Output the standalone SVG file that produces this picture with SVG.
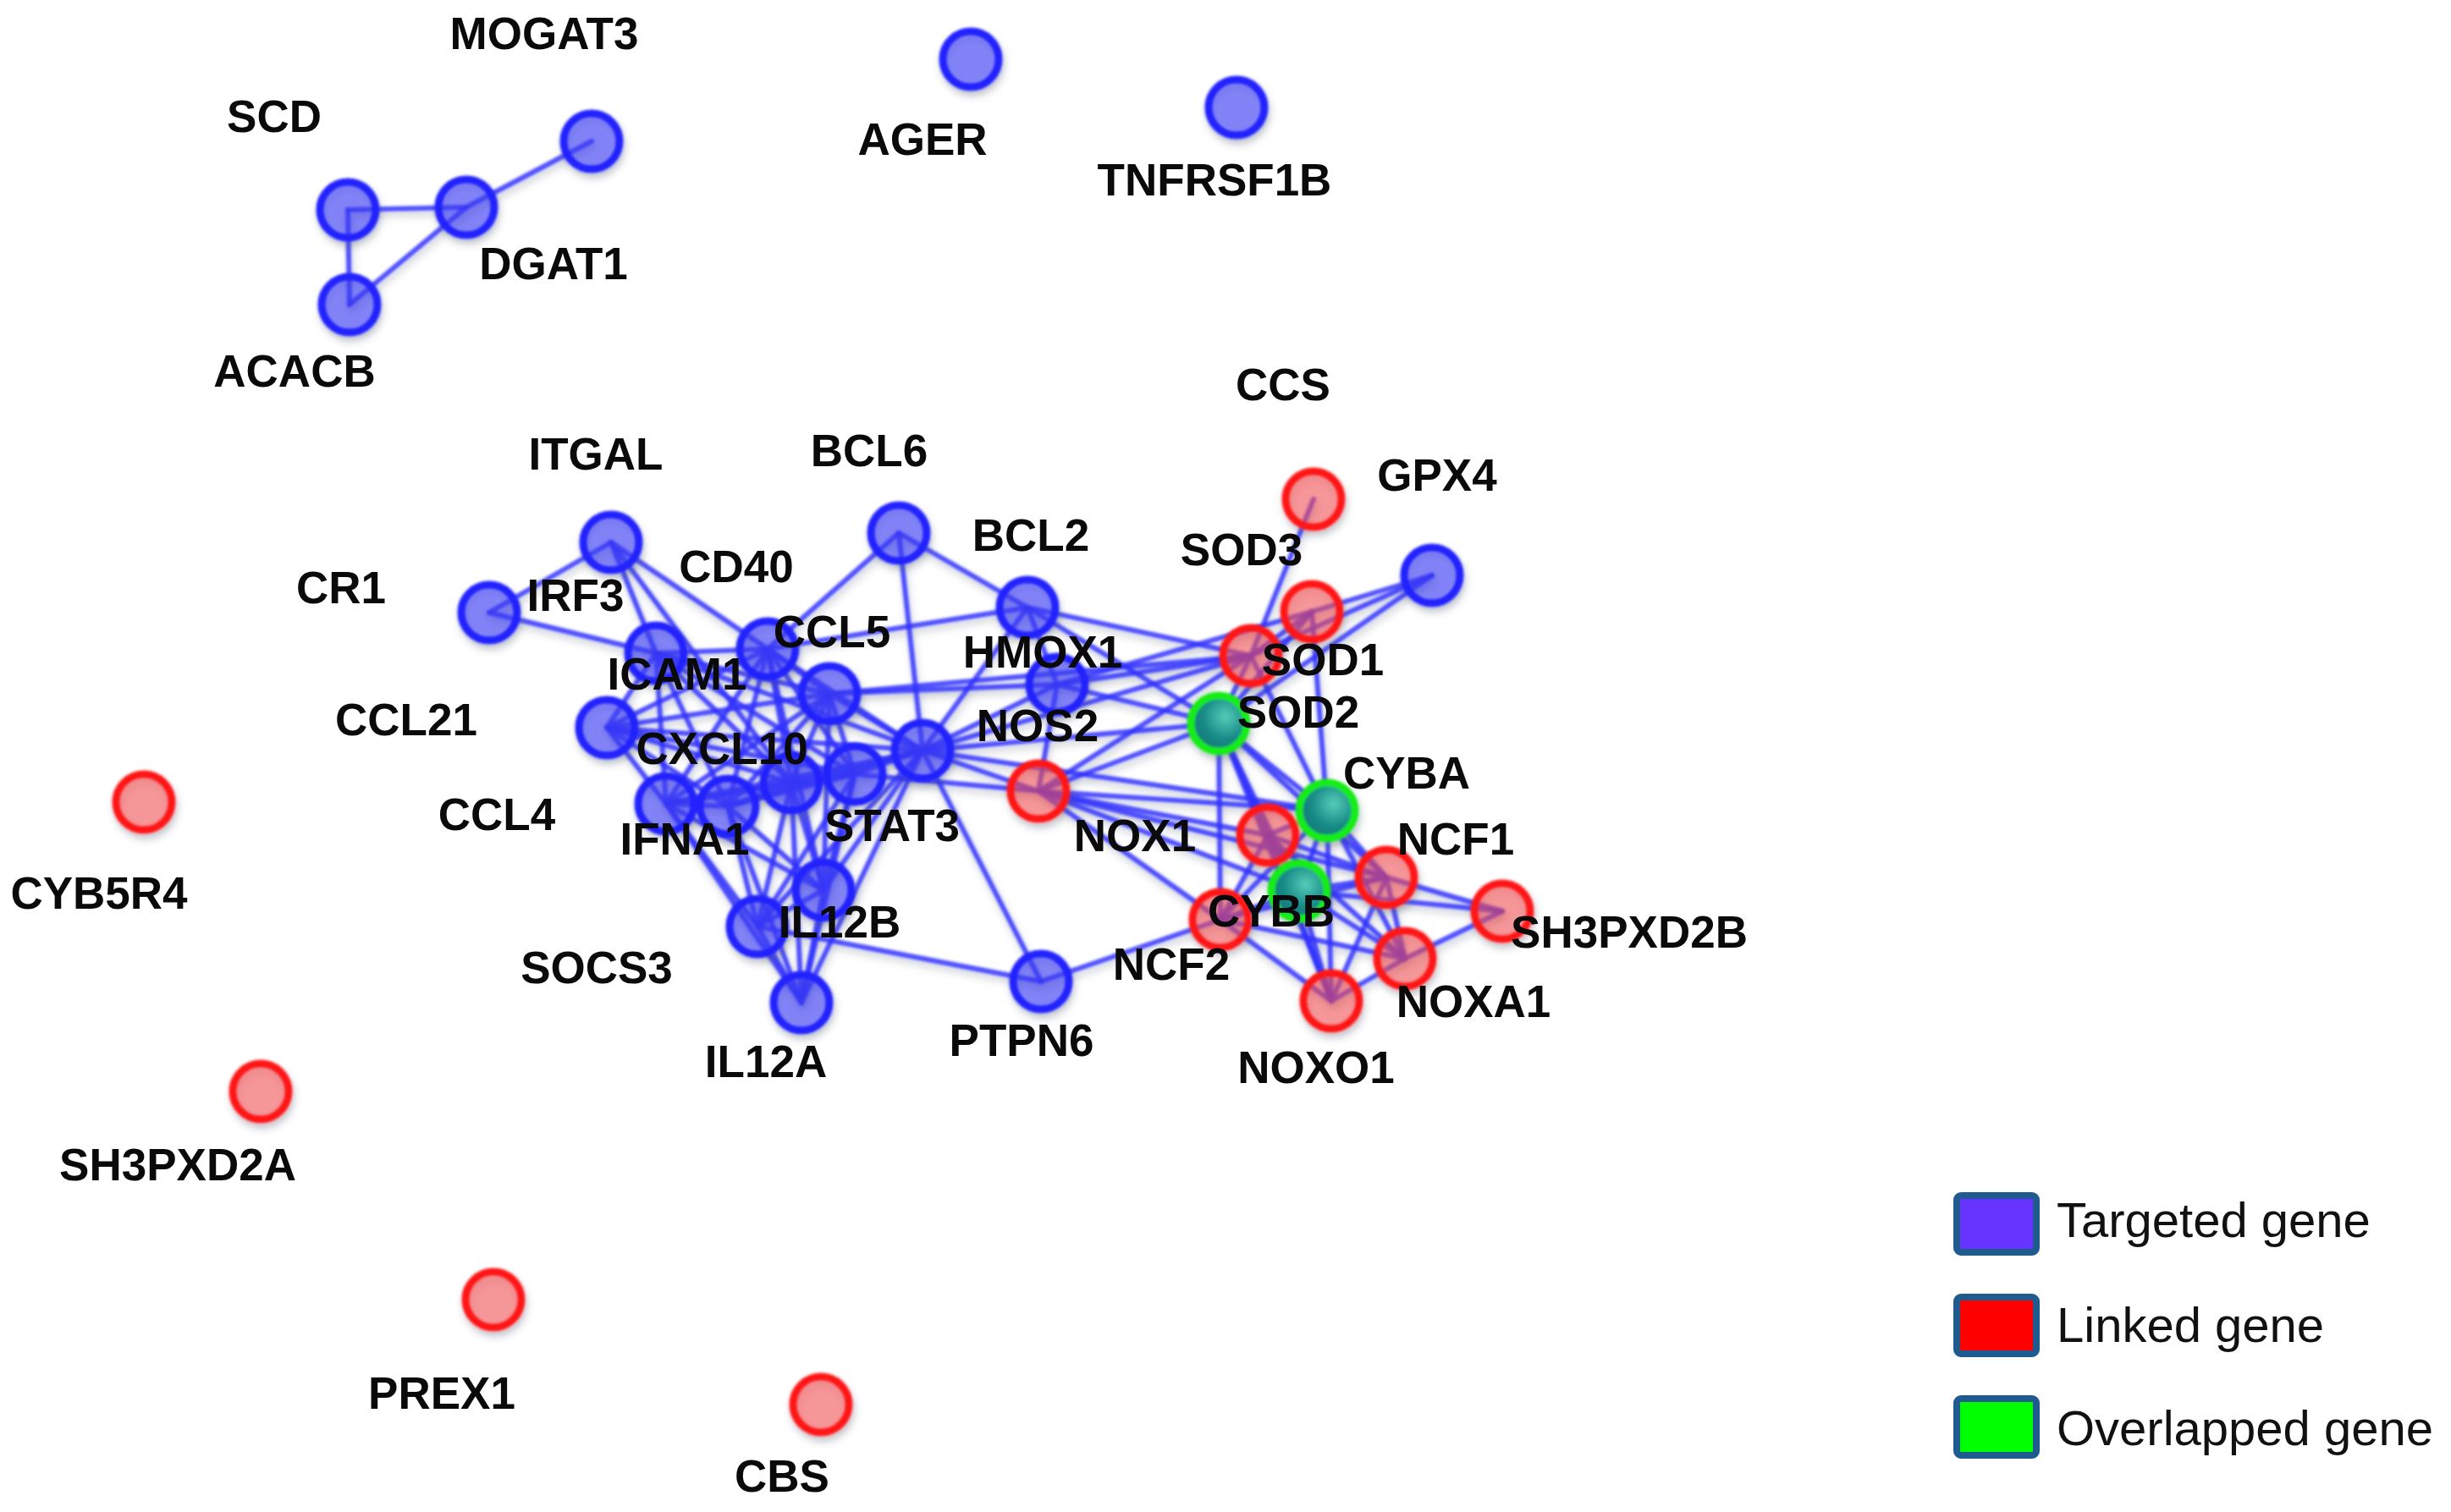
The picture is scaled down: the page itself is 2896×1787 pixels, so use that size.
<svg xmlns="http://www.w3.org/2000/svg" width="2896" height="1787" viewBox="0 0 2896 1787">
<defs>
<style>
.e{stroke:#2e2eff;stroke-width:6;stroke-opacity:0.82;stroke-linecap:round;fill:none}
.nb{fill:#3c3cff;fill-opacity:0.55;stroke:#2020ff;stroke-width:9}
.nr{fill:#ff4a4a;fill-opacity:0.5;stroke:#ff1616;stroke-width:9}
.ng{fill:url(#gg);stroke:#18ec18;stroke-width:9}
.lb{font-family:"Liberation Sans",Arial,sans-serif;font-weight:bold;font-size:53px;fill:#0a0a0a;text-anchor:middle}
.lg{font-family:"Liberation Sans",Arial,sans-serif;font-size:58px;fill:#111}
.box{stroke:#1f5b8e;stroke-width:8}
</style>
<radialGradient id="gg" cx="0.62" cy="0.38" r="0.7">
<stop offset="0" stop-color="#55ccb8"/>
<stop offset="0.55" stop-color="#1a8c88"/>
<stop offset="1" stop-color="#0d7474"/>
</radialGradient>
<filter id="sh" filterUnits="userSpaceOnUse" x="0" y="0" width="2896" height="1787">
<feGaussianBlur in="SourceGraphic" stdDeviation="1.5" result="b"/>
<feDropShadow in="b" dx="2" dy="6" stdDeviation="4" flood-color="#4a5566" flood-opacity="0.35"/>
</filter>
</defs>
<rect width="2896" height="1787" fill="#ffffff"/>

<g id="connectors" filter="url(#sh)">
<line class="e" x1="411" y1="248" x2="551" y2="245"/>
<line class="e" x1="411" y1="248" x2="413" y2="360"/>
<line class="e" x1="413" y1="360" x2="551" y2="245"/>
<line class="e" x1="551" y1="245" x2="699" y2="167"/>
<line class="e" x1="722" y1="641" x2="578" y2="724"/>
<line class="e" x1="722" y1="641" x2="907" y2="767"/>
<line class="e" x1="722" y1="641" x2="935" y2="925"/>
<line class="e" x1="722" y1="641" x2="775" y2="772"/>
<line class="e" x1="578" y1="724" x2="775" y2="772"/>
<line class="e" x1="1062" y1="630" x2="907" y2="767"/>
<line class="e" x1="1062" y1="630" x2="1090" y2="887"/>
<line class="e" x1="1062" y1="630" x2="1214" y2="718"/>
<line class="e" x1="907" y1="767" x2="1214" y2="718"/>
<line class="e" x1="1214" y1="718" x2="1090" y2="887"/>
<line class="e" x1="1214" y1="718" x2="1249" y2="809"/>
<line class="e" x1="1214" y1="718" x2="1478" y2="775"/>
<line class="e" x1="1214" y1="718" x2="1440" y2="855"/>
<line class="e" x1="1249" y1="809" x2="1090" y2="887"/>
<line class="e" x1="1249" y1="809" x2="980" y2="820"/>
<line class="e" x1="1249" y1="809" x2="1227" y2="935"/>
<line class="e" x1="1249" y1="809" x2="1478" y2="775"/>
<line class="e" x1="1249" y1="809" x2="1440" y2="855"/>
<line class="e" x1="1249" y1="809" x2="1550" y2="723"/>
<line class="e" x1="1227" y1="935" x2="1090" y2="887"/>
<line class="e" x1="1227" y1="935" x2="1010" y2="915"/>
<line class="e" x1="1227" y1="935" x2="1440" y2="855"/>
<line class="e" x1="1227" y1="935" x2="1568" y2="958"/>
<line class="e" x1="1227" y1="935" x2="1498" y2="987"/>
<line class="e" x1="1227" y1="935" x2="1442" y2="1087"/>
<line class="e" x1="1227" y1="935" x2="1535" y2="1053"/>
<line class="e" x1="1227" y1="935" x2="1478" y2="775"/>
<line class="e" x1="1227" y1="935" x2="1638" y2="1037"/>
<line class="e" x1="1090" y1="887" x2="1230" y2="1160"/>
<line class="e" x1="895" y1="1095" x2="1230" y2="1160"/>
<line class="e" x1="1230" y1="1160" x2="1442" y2="1087"/>
<line class="e" x1="1090" y1="887" x2="1440" y2="855"/>
<line class="e" x1="1090" y1="887" x2="1478" y2="775"/>
<line class="e" x1="980" y1="820" x2="1478" y2="775"/>
<line class="e" x1="1090" y1="887" x2="1568" y2="958"/>
<line class="e" x1="1552" y1="590" x2="1478" y2="775"/>
<line class="e" x1="1692" y1="680" x2="1550" y2="723"/>
<line class="e" x1="1692" y1="680" x2="1478" y2="775"/>
<line class="e" x1="1692" y1="680" x2="1440" y2="855"/>
<line class="e" x1="1550" y1="723" x2="1478" y2="775"/>
<line class="e" x1="1550" y1="723" x2="1568" y2="958"/>
<line class="e" x1="1550" y1="723" x2="1440" y2="855"/>
<line class="e" x1="1478" y1="775" x2="1440" y2="855"/>
<line class="e" x1="1478" y1="775" x2="1568" y2="958"/>
<line class="e" x1="1440" y1="855" x2="1498" y2="987"/>
<line class="e" x1="1440" y1="855" x2="1535" y2="1053"/>
<line class="e" x1="1440" y1="855" x2="1442" y2="1087"/>
<line class="e" x1="1440" y1="855" x2="1568" y2="958"/>
<line class="e" x1="1440" y1="855" x2="1638" y2="1037"/>
<line class="e" x1="1440" y1="855" x2="1573" y2="1183"/>
<line class="e" x1="1568" y1="958" x2="1498" y2="987"/>
<line class="e" x1="1568" y1="958" x2="1638" y2="1037"/>
<line class="e" x1="1568" y1="958" x2="1535" y2="1053"/>
<line class="e" x1="1568" y1="958" x2="1442" y2="1087"/>
<line class="e" x1="1568" y1="958" x2="1660" y2="1133"/>
<line class="e" x1="1568" y1="958" x2="1573" y2="1183"/>
<line class="e" x1="1498" y1="987" x2="1638" y2="1037"/>
<line class="e" x1="1498" y1="987" x2="1535" y2="1053"/>
<line class="e" x1="1498" y1="987" x2="1442" y2="1087"/>
<line class="e" x1="1498" y1="987" x2="1660" y2="1133"/>
<line class="e" x1="1498" y1="987" x2="1573" y2="1183"/>
<line class="e" x1="1638" y1="1037" x2="1535" y2="1053"/>
<line class="e" x1="1638" y1="1037" x2="1442" y2="1087"/>
<line class="e" x1="1638" y1="1037" x2="1660" y2="1133"/>
<line class="e" x1="1638" y1="1037" x2="1573" y2="1183"/>
<line class="e" x1="1535" y1="1053" x2="1442" y2="1087"/>
<line class="e" x1="1535" y1="1053" x2="1660" y2="1133"/>
<line class="e" x1="1535" y1="1053" x2="1573" y2="1183"/>
<line class="e" x1="1442" y1="1087" x2="1660" y2="1133"/>
<line class="e" x1="1442" y1="1087" x2="1573" y2="1183"/>
<line class="e" x1="1660" y1="1133" x2="1573" y2="1183"/>
<line class="e" x1="1775" y1="1077" x2="1638" y2="1037"/>
<line class="e" x1="1775" y1="1077" x2="1660" y2="1133"/>
<line class="e" x1="1775" y1="1077" x2="1535" y2="1053"/>
<line class="e" x1="775" y1="772" x2="907" y2="767"/>
<line class="e" x1="775" y1="772" x2="980" y2="820"/>
<line class="e" x1="775" y1="772" x2="717" y2="860"/>
<line class="e" x1="775" y1="772" x2="860" y2="953"/>
<line class="e" x1="775" y1="772" x2="935" y2="925"/>
<line class="e" x1="775" y1="772" x2="1090" y2="887"/>
<line class="e" x1="775" y1="772" x2="787" y2="950"/>
<line class="e" x1="775" y1="772" x2="1010" y2="915"/>
<line class="e" x1="907" y1="767" x2="980" y2="820"/>
<line class="e" x1="907" y1="767" x2="717" y2="860"/>
<line class="e" x1="907" y1="767" x2="860" y2="953"/>
<line class="e" x1="907" y1="767" x2="935" y2="925"/>
<line class="e" x1="907" y1="767" x2="1090" y2="887"/>
<line class="e" x1="907" y1="767" x2="1010" y2="915"/>
<line class="e" x1="907" y1="767" x2="787" y2="950"/>
<line class="e" x1="907" y1="767" x2="973" y2="1052"/>
<line class="e" x1="980" y1="820" x2="717" y2="860"/>
<line class="e" x1="980" y1="820" x2="1090" y2="887"/>
<line class="e" x1="980" y1="820" x2="860" y2="953"/>
<line class="e" x1="980" y1="820" x2="935" y2="925"/>
<line class="e" x1="980" y1="820" x2="1010" y2="915"/>
<line class="e" x1="980" y1="820" x2="787" y2="950"/>
<line class="e" x1="980" y1="820" x2="973" y2="1052"/>
<line class="e" x1="717" y1="860" x2="860" y2="953"/>
<line class="e" x1="717" y1="860" x2="935" y2="925"/>
<line class="e" x1="717" y1="860" x2="1090" y2="887"/>
<line class="e" x1="717" y1="860" x2="1010" y2="915"/>
<line class="e" x1="717" y1="860" x2="787" y2="950"/>
<line class="e" x1="1090" y1="887" x2="860" y2="953"/>
<line class="e" x1="1090" y1="887" x2="935" y2="925"/>
<line class="e" x1="1090" y1="887" x2="1010" y2="915"/>
<line class="e" x1="1090" y1="887" x2="787" y2="950"/>
<line class="e" x1="1090" y1="887" x2="973" y2="1052"/>
<line class="e" x1="1090" y1="887" x2="895" y2="1095"/>
<line class="e" x1="1090" y1="887" x2="947" y2="1185"/>
<line class="e" x1="787" y1="950" x2="860" y2="953"/>
<line class="e" x1="787" y1="950" x2="935" y2="925"/>
<line class="e" x1="787" y1="950" x2="1010" y2="915"/>
<line class="e" x1="787" y1="950" x2="895" y2="1095"/>
<line class="e" x1="787" y1="950" x2="973" y2="1052"/>
<line class="e" x1="787" y1="950" x2="947" y2="1185"/>
<line class="e" x1="860" y1="953" x2="935" y2="925"/>
<line class="e" x1="860" y1="953" x2="1010" y2="915"/>
<line class="e" x1="860" y1="953" x2="895" y2="1095"/>
<line class="e" x1="860" y1="953" x2="973" y2="1052"/>
<line class="e" x1="860" y1="953" x2="947" y2="1185"/>
<line class="e" x1="935" y1="925" x2="1010" y2="915"/>
<line class="e" x1="935" y1="925" x2="895" y2="1095"/>
<line class="e" x1="935" y1="925" x2="973" y2="1052"/>
<line class="e" x1="935" y1="925" x2="947" y2="1185"/>
<line class="e" x1="1010" y1="915" x2="973" y2="1052"/>
<line class="e" x1="1010" y1="915" x2="895" y2="1095"/>
<line class="e" x1="1010" y1="915" x2="947" y2="1185"/>
<line class="e" x1="973" y1="1052" x2="895" y2="1095"/>
<line class="e" x1="973" y1="1052" x2="947" y2="1185"/>
<line class="e" x1="895" y1="1095" x2="947" y2="1185"/>
</g>

<g id="nodes" filter="url(#sh)">
<g id="node-SCD"><circle class="nb" cx="411" cy="248" r="33"/></g>
<g id="node-DGAT1"><circle class="nb" cx="551" cy="245" r="33"/></g>
<g id="node-MOGAT3"><circle class="nb" cx="699" cy="167" r="33"/></g>
<g id="node-ACACB"><circle class="nb" cx="413" cy="360" r="33"/></g>
<g id="node-AGER"><circle class="nb" cx="1147" cy="70" r="33"/></g>
<g id="node-TNFRSF1B"><circle class="nb" cx="1461" cy="127" r="33"/></g>
<g id="node-ITGAL"><circle class="nb" cx="722" cy="641" r="33"/></g>
<g id="node-CR1"><circle class="nb" cx="578" cy="724" r="33"/></g>
<g id="node-IRF3"><circle class="nb" cx="775" cy="772" r="33"/></g>
<g id="node-CCL5"><circle class="nb" cx="907" cy="767" r="33"/></g>
<g id="node-BCL6"><circle class="nb" cx="1062" cy="630" r="33"/></g>
<g id="node-BCL2"><circle class="nb" cx="1214" cy="718" r="33"/></g>
<g id="node-HMOX1"><circle class="nb" cx="1249" cy="809" r="33"/></g>
<g id="node-CCL21"><circle class="nb" cx="717" cy="860" r="33"/></g>
<g id="node-CD40"><circle class="nb" cx="980" cy="820" r="33"/></g>
<g id="node-STAT3"><circle class="nb" cx="1090" cy="887" r="33"/></g>
<g id="node-IFNA1"><circle class="nb" cx="787" cy="950" r="33"/></g>
<g id="node-CXCL10"><circle class="nb" cx="860" cy="953" r="33"/></g>
<g id="node-ICAM1"><circle class="nb" cx="935" cy="925" r="33"/></g>
<g id="node-CCL4"><circle class="nb" cx="1010" cy="915" r="33"/></g>
<g id="node-IL12B"><circle class="nb" cx="973" cy="1052" r="33"/></g>
<g id="node-SOCS3"><circle class="nb" cx="895" cy="1095" r="33"/></g>
<g id="node-IL12A"><circle class="nb" cx="947" cy="1185" r="33"/></g>
<g id="node-PTPN6"><circle class="nb" cx="1230" cy="1160" r="33"/></g>
<g id="node-NOS2"><circle class="nb" cx="1692" cy="680" r="33"/></g>
<g id="node-CYB5R4"><circle class="nr" cx="170" cy="948" r="33"/></g>
<g id="node-SH3PXD2A"><circle class="nr" cx="308" cy="1290" r="33"/></g>
<g id="node-PREX1"><circle class="nr" cx="583" cy="1536" r="33"/></g>
<g id="node-CBS"><circle class="nr" cx="970" cy="1660" r="33"/></g>
<g id="node-NOX1"><circle class="nr" cx="1227" cy="935" r="33"/></g>
<g id="node-GPX4"><circle class="nr" cx="1552" cy="590" r="33"/></g>
<g id="node-SOD3"><circle class="nr" cx="1550" cy="723" r="33"/></g>
<g id="node-SOD1"><circle class="nr" cx="1478" cy="775" r="33"/></g>
<g id="node-CCS"><circle class="nr" cx="1498" cy="987" r="33"/></g>
<g id="node-NCF1"><circle class="nr" cx="1638" cy="1037" r="33"/></g>
<g id="node-NCF2"><circle class="nr" cx="1442" cy="1087" r="33"/></g>
<g id="node-SH3PXD2B"><circle class="nr" cx="1775" cy="1077" r="33"/></g>
<g id="node-NOXA1"><circle class="nr" cx="1660" cy="1133" r="33"/></g>
<g id="node-NOXO1"><circle class="nr" cx="1573" cy="1183" r="33"/></g>
<g id="node-SOD2"><circle class="ng" cx="1440" cy="855" r="33"/></g>
<g id="node-CYBA"><circle class="ng" cx="1568" cy="958" r="33"/></g>
<g id="node-CYBB"><circle class="ng" cx="1535" cy="1053" r="33"/></g>
</g>

<g id="labels">
<text class="lb" x="643" y="58">MOGAT3</text>
<text class="lb" x="324" y="156">SCD</text>
<text class="lb" x="654" y="330">DGAT1</text>
<text class="lb" x="348" y="457">ACACB</text>
<text class="lb" x="1090" y="183">AGER</text>
<text class="lb" x="1435" y="231">TNFRSF1B</text>
<text class="lb" x="704" y="555">ITGAL</text>
<text class="lb" x="1027" y="551">BCL6</text>
<text class="lb" x="1516" y="473">CCS</text>
<text class="lb" x="1698" y="580">GPX4</text>
<text class="lb" x="403" y="713">CR1</text>
<text class="lb" x="680" y="722">IRF3</text>
<text class="lb" x="870" y="688">CD40</text>
<text class="lb" x="1218" y="651">BCL2</text>
<text class="lb" x="1467" y="668">SOD3</text>
<text class="lb" x="983" y="765">CCL5</text>
<text class="lb" x="800" y="815">ICAM1</text>
<text class="lb" x="1232" y="789">HMOX1</text>
<text class="lb" x="1563" y="798">SOD1</text>
<text class="lb" x="1534" y="860">SOD2</text>
<text class="lb" x="1226" y="876">NOS2</text>
<text class="lb" x="480" y="869">CCL21</text>
<text class="lb" x="853" y="903">CXCL10</text>
<text class="lb" x="1662" y="932">CYBA</text>
<text class="lb" x="587" y="981">CCL4</text>
<text class="lb" x="1054" y="994">STAT3</text>
<text class="lb" x="809" y="1010">IFNA1</text>
<text class="lb" x="1341" y="1006">NOX1</text>
<text class="lb" x="1720" y="1010">NCF1</text>
<text class="lb" x="1502" y="1095">CYBB</text>
<text class="lb" x="992" y="1108">IL12B</text>
<text class="lb" x="1925" y="1120">SH3PXD2B</text>
<text class="lb" x="705" y="1162">SOCS3</text>
<text class="lb" x="1384" y="1158">NCF2</text>
<text class="lb" x="1741" y="1202">NOXA1</text>
<text class="lb" x="905" y="1273">IL12A</text>
<text class="lb" x="1207" y="1248">PTPN6</text>
<text class="lb" x="1555" y="1280">NOXO1</text>
<text class="lb" x="117" y="1074">CYB5R4</text>
<text class="lb" x="210" y="1395">SH3PXD2A</text>
<text class="lb" x="522" y="1665">PREX1</text>
<text class="lb" x="924" y="1763">CBS</text>
</g>

<g id="legend">
<rect class="box" x="2312" y="1413" width="94" height="67" rx="5" fill="#6633ff"/>
<rect class="box" x="2312" y="1533" width="94" height="67" rx="5" fill="#ff0000"/>
<rect class="box" x="2312" y="1653" width="94" height="67" rx="5" fill="#00ff00"/>
<text class="lg" x="2430" y="1462">Targeted gene</text>
<text class="lg" x="2430" y="1586">Linked gene</text>
<text class="lg" x="2430" y="1708">Overlapped gene</text>
</g>
</svg>
